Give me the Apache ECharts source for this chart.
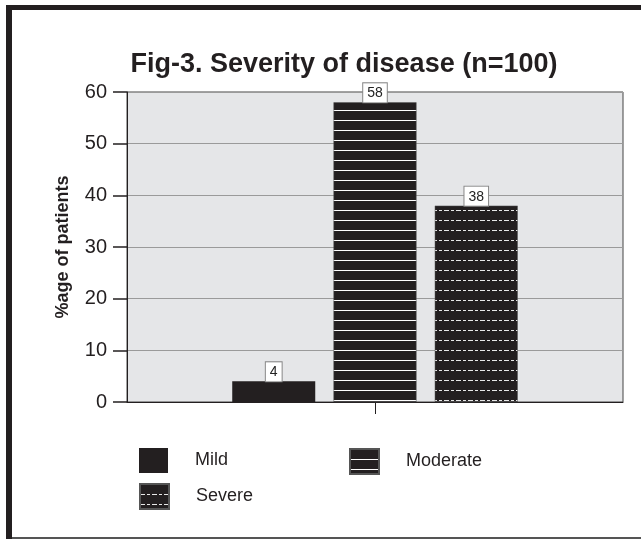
<!DOCTYPE html>
<html>
<head>
<meta charset="utf-8">
<script src="https://cdn.jsdelivr.net/npm/echarts@6/dist/echarts.min.js"></script>
<style>html,body{margin:0;padding:0;background:#fff;}#c{width:641px;height:541px;}</style>
</head>
<body>
<div id="c"></div>
<script>
var titleText = 'Fig-3. Severity of disease (n=100)';
var categories = [''];
var seriesNames = ['Mild', 'Moderate', 'Severe'];
var mildValues = [4];
var moderateValues = [58];
var severeValues = [38];
var yTicks = [0, 10, 20, 30, 40, 50, 60];
var yAxisName = '%age of patients';

function makePattern(kind) {
  var c = document.createElement('canvas');
  c.width = 12; c.height = 10;
  var g = c.getContext('2d');
  g.fillStyle = '#231f20';
  g.fillRect(0, 0, 12, 10);
  if (kind === 'moderate') {
    g.fillStyle = '#ffffff';
    g.fillRect(0, 0, 12, 1);
  } else if (kind === 'severe') {
    g.fillStyle = '#e8e8e8';
    g.fillRect(0, 0, 5, 1);
    g.fillRect(7, 0, 3, 1);
  }
  return {image: c, repeat: 'repeat'};
}

var colors = {
  Mild: '#231f20',
  Moderate: makePattern('moderate'),
  Severe: makePattern('severe')
};
var valuesByName = {Mild: mildValues, Moderate: moderateValues, Severe: severeValues};

var chart = echarts.init(document.getElementById('c'), null, {renderer: 'canvas'});

var labelStyle = {
  show: true,
  position: 'top',
  distance: 0,
  color: '#222',
  fontFamily: 'Liberation Sans, Arial, sans-serif',
  fontSize: 14,
  backgroundColor: '#fff',
  borderColor: '#888',
  borderWidth: 1,
  padding: [3, 4, 2, 4]
};

var series = seriesNames.map(function (n) {
  return {
    name: n,
    type: 'bar',
    data: valuesByName[n],
    barWidth: 83,
    barGap: '22%',
    itemStyle: {color: colors[n], borderColor: '#555', borderWidth: n === 'Mild' ? 0 : 0.5},
    label: labelStyle,
    animation: false
  };
});

function legendAt(name, left, top) {
  return {
    data: [name],
    left: left, top: top,
    itemWidth: 29, itemHeight: 25,
    icon: 'rect',
    selectedMode: false,
    textStyle: {fontFamily: 'Liberation Sans, Arial, sans-serif', fontSize: 18, color: '#231f20', padding: [0, 0, 0, 22]}
  };
}

chart.setOption({
  backgroundColor: '#fff',
  animation: false,
  title: {
    text: titleText,
    left: 339, textAlign: 'center',
    top: 46,
    textStyle: {fontFamily: 'Liberation Sans, Arial, sans-serif', fontSize: 27, fontWeight: 'bold', color: '#231f20'}
  },
  legend: [
    legendAt('Mild', 134, 443),
    legendAt('Moderate', 344, 443),
    legendAt('Severe', 134, 478)
  ],
  grid: {left: 127, right: 18, top: 92, bottom: 139, show: true, backgroundColor: '#e5e6e8', borderColor: '#444', borderWidth: 1},
  xAxis: {
    type: 'category',
    data: categories,
    axisLine: {lineStyle: {color: '#231f20', width: 1}},
    axisTick: {show: true, alignWithLabel: true, length: 12, lineStyle: {color: '#231f20'}},
    axisLabel: {show: false}
  },
  yAxis: {
    type: 'value',
    min: yTicks[0], max: yTicks[yTicks.length - 1], interval: 10,
    name: yAxisName,
    nameLocation: 'middle',
    nameGap: 55,
    nameTextStyle: {fontFamily: 'Liberation Sans, Arial, sans-serif', fontSize: 18, fontWeight: 'bold', color: '#231f20'},
    axisLine: {show: true, lineStyle: {color: '#231f20', width: 1}},
    axisTick: {show: true, inside: false, length: 14, lineStyle: {color: '#231f20', width: 1.5}},
    axisLabel: {margin: 20, fontFamily: 'Liberation Sans, Arial, sans-serif', fontSize: 20, color: '#231f20'},
    splitLine: {show: true, lineStyle: {color: '#9a9a9a', width: 1.2}}
  },
  graphic: [
    {type: 'rect', shape: {x: 6, y: 5, width: 6, height: 534}, style: {fill: '#231f20'}, silent: true},
    {type: 'rect', shape: {x: 6, y: 5, width: 635, height: 5}, style: {fill: '#231f20'}, silent: true},
    {type: 'rect', shape: {x: 12, y: 537, width: 629, height: 2}, style: {fill: '#555'}, silent: true}
  ],
  series: series
});
</script>
</body>
</html>
